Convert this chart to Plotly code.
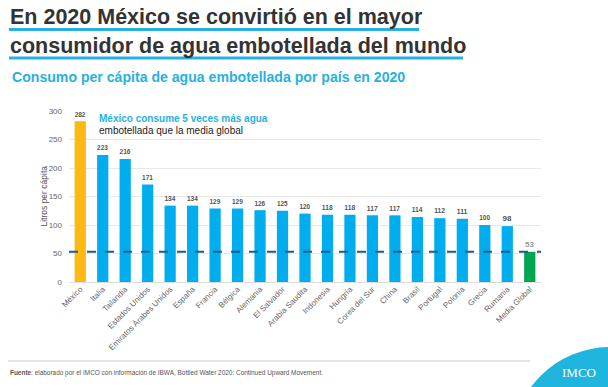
import plotly.graph_objects as go

# ---- data ----
countries = ["México", "Italia", "Tailandia", "Estados Unidos", "Emiratos Árabes Unidos",
             "España", "Francia", "Bélgica", "Alemania", "El Salvador", "Arabia Saudita",
             "Indonesia", "Hungría", "Corea del Sur", "China", "Brasil", "Portugal",
             "Polonia", "Grecia", "Rumania", "Media Global"]
litros = [282, 223, 216, 171, 134, 134, 129, 129, 126, 125, 120,
          118, 118, 117, 117, 114, 112, 111, 100, 98, 53]
media_global = 53
y_ticks = [0, 50, 100, 150, 200, 250, 300]

title_1 = "En 2020 México se convirtió en el mayor"
title_2 = "consumidor de agua embotellada del mundo"
subtitle = "Consumo per cápita de agua embotellada por país en 2020"
note_1 = "México consume 5 veces más agua"
note_2 = "embotellada que la media global"
y_title = "Litros per cápita"
source = "<b>Fuente</b>: elaborado por el IMCO con información de IBWA, Bottled Water 2020: Continued Upward Movement."

# ---- layout geometry ----
W, H = 608, 387
L, R, T, B = 69, 67, 111, 105
PW, PH = W - L - R, H - T - B


def px(x):
    return (x - L) / PW


def py(y):
    return (H - B - y) / PH


YELLOW = "#FDB913"
BLUE = "#00AEEF"
GREEN = "#00A651"
CYAN = "#27B1E1"
FONT = "Liberation Sans, Arial, sans-serif"

colors = [YELLOW if c == "México" else GREEN if c == "Media Global" else BLUE for c in countries]
label_colors = ["#999999" if c == "Media Global" else "#555555" for c in countries]

fig = go.Figure()
fig.add_trace(go.Bar(
    x=countries, y=litros,
    marker=dict(color=colors, line=dict(width=0)),
    text=[str(v) for v in litros],
    texttemplate="<b>%{text}</b>",
    textposition="outside",
    textfont=dict(size=8, color=label_colors, family=FONT),
    cliponaxis=False,
    hoverinfo="x+y",
))

fig.add_shape(type="line", xref="paper", yref="y", x0=0, x1=1,
              y0=media_global, y1=media_global,
              line=dict(color="#1B5E87", width=2, dash="dash"), layer="above")

# title underlines
fig.add_shape(type="line", xref="paper", yref="paper", x0=px(9), x1=px(419), y0=py(29.5), y1=py(29.5),
              line=dict(color=CYAN, width=3))
fig.add_shape(type="line", xref="paper", yref="paper", x0=px(9), x1=px(463), y0=py(58), y1=py(58),
              line=dict(color=CYAN, width=3))
# footer line
fig.add_shape(type="line", xref="paper", yref="paper", x0=px(8), x1=px(530), y0=py(361), y1=py(361),
              line=dict(color="#DDDDDD", width=1.5))
# logo circle
cx, cy, r = 610, 445, 98
fig.add_shape(type="circle", xref="paper", yref="paper",
              x0=px(cx - r), x1=px(cx + r), y0=py(cy + r), y1=py(cy - r),
              fillcolor="#1FB5DF", line=dict(width=0))

ann = []


def add_text(text, x, y, size, color, xanchor="left", bold=False, family=FONT, angle=0):
    ann.append(dict(text=f"<b>{text}</b>" if bold else text, xref="paper", yref="paper",
                    x=px(x), y=py(y), xanchor=xanchor, yanchor="middle", showarrow=False,
                    textangle=angle, font=dict(size=size, color=color, family=family)))


add_text(title_1, 8, 17, 21.5, "#333333", bold=True)
add_text(title_2, 8, 46, 21.5, "#333333", bold=True)
add_text(subtitle, 10, 77, 14.1, CYAN, bold=True)
add_text(note_1, 97, 118.5, 10, CYAN, bold=True)
add_text(note_2, 97, 130.5, 10, "#222222")
add_text(y_title, 43, 196.5, 8.5, "#555555", xanchor="center", angle=-90)
add_text(source, 8, 373, 6.45, "#555555")
add_text("IMCO", 579, 372, 13, "white", xanchor="center", family="Liberation Serif, DejaVu Serif, serif")

fig.update_layout(
    width=W, height=H,
    margin=dict(l=L, r=R, t=T, b=B, pad=0),
    paper_bgcolor="white", plot_bgcolor="white",
    showlegend=False,
    bargap=0.5,
    annotations=ann,
    font=dict(family=FONT),
    xaxis=dict(tickangle=-45, tickfont=dict(size=8, color="#666666"),
               showgrid=False, showline=False, ticks="", fixedrange=True),
    yaxis=dict(range=[0, 300], tickvals=y_ticks, tickfont=dict(size=8, color="#666666"),
               showgrid=True, gridcolor="#E8E8E8", gridwidth=1,
               zeroline=True, zerolinecolor="#DDDDDD", zerolinewidth=1,
               showline=False, ticks="", ticklabelstandoff=6, fixedrange=True),
)

fig.write_html("out.html")
